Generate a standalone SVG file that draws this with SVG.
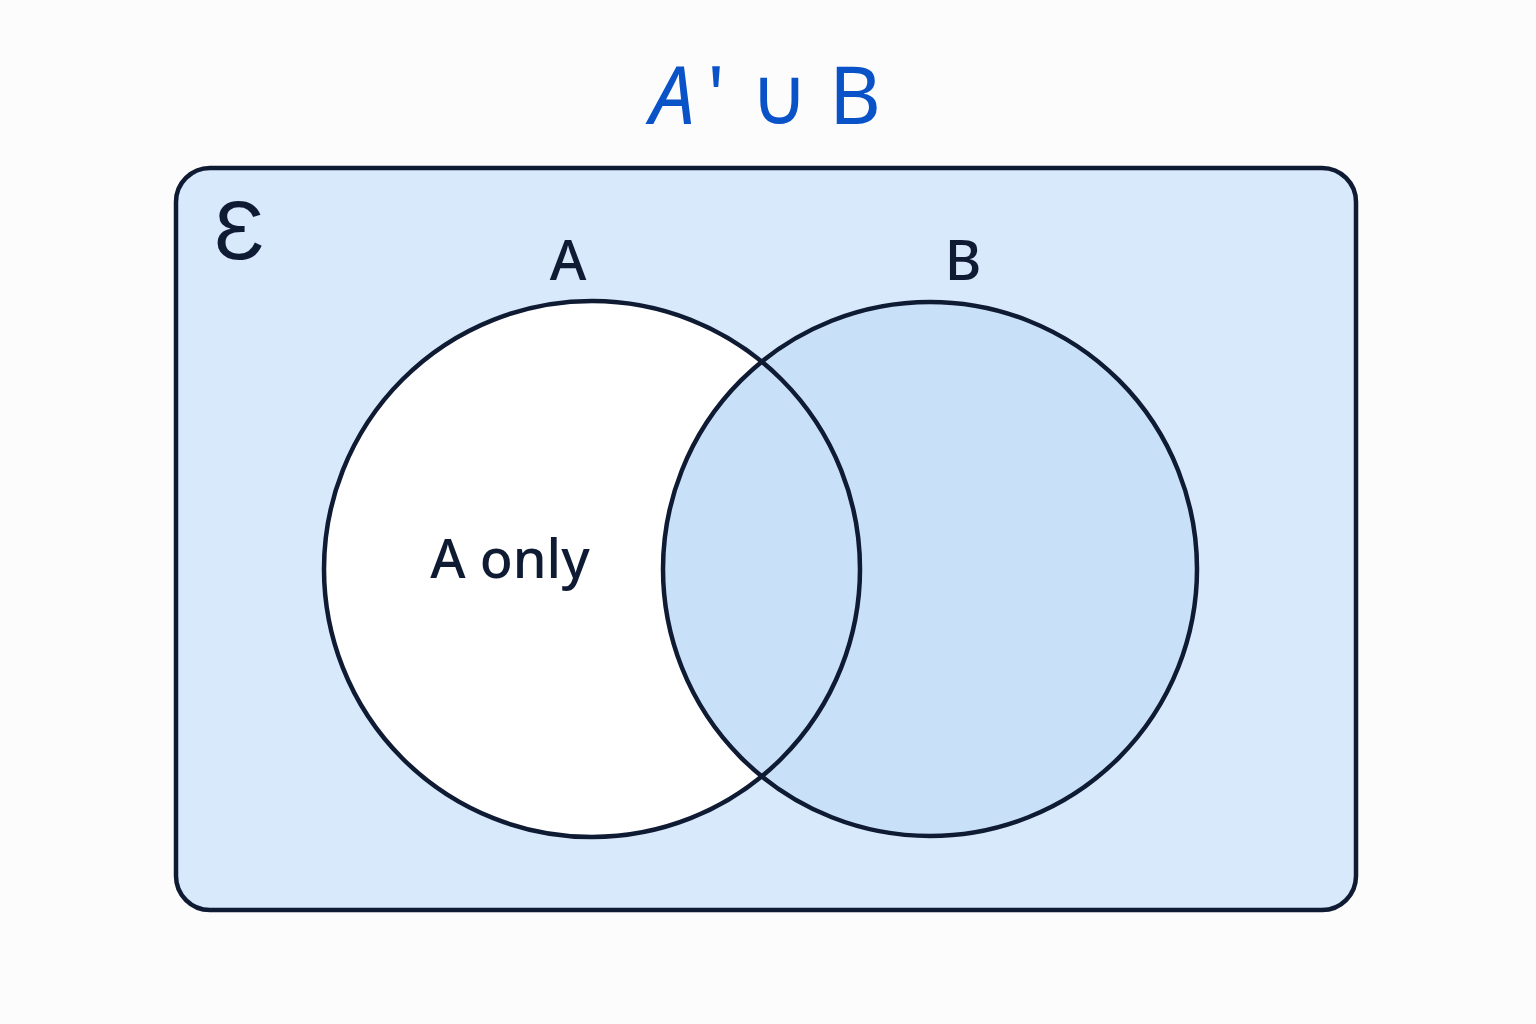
<svg xmlns="http://www.w3.org/2000/svg" width="1536" height="1024" viewBox="0 0 1536 1024">
<style>
.outline{fill:none;stroke:#0f1a33;stroke-width:4.5}
.lbl{font-family:"Noto Sans","Open Sans",sans-serif;fill:#0f1a33;font-weight:500}
.title{font-family:"Noto Sans","Open Sans",sans-serif;fill:#0a52c8}
</style>
<rect x="0" y="0" width="1536" height="1024" fill="#fcfcfc"/>
<g id="title">
<text class="title" font-size="80" y="124"><tspan x="650" font-style="italic">A</tspan><tspan x="707">'</tspan><tspan x="750">∪</tspan><tspan x="829">B</tspan></text>
</g>
<g id="universe">
<rect x="176" y="168" width="1180" height="742" rx="34" fill="#d8e9fb" stroke="#0f1a33" stroke-width="4.5"/>
<text x="214" y="259" font-size="84" font-family="'Liberation Sans','DejaVu Sans',sans-serif" fill="#0f1a33">Ɛ</text>
</g>
<g id="setA">
<circle cx="592" cy="569" r="268" fill="#ffffff"/>
<text class="lbl" x="568" y="280" font-size="56" text-anchor="middle">A</text>
<text class="lbl" x="510" y="578" font-size="54" text-anchor="middle">A only</text>
</g>
<g id="setB">
<circle cx="930" cy="569" r="267" fill="#c8e1f9"/>
<text class="lbl" x="963" y="280" font-size="56" text-anchor="middle">B</text>
</g>
<g id="connectors">
<circle cx="592" cy="569" r="268" class="outline"/>
<circle cx="930" cy="569" r="267" class="outline"/>
</g>
</svg>
